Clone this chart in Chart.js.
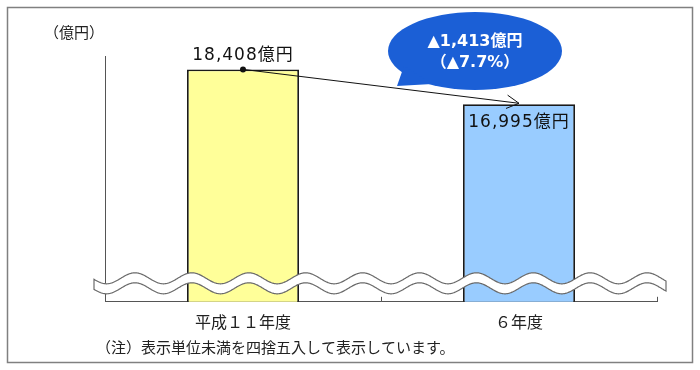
<!DOCTYPE html>
<html>
<head>
<meta charset="utf-8">
<script src="https://cdn.jsdelivr.net/npm/chart.js@4/dist/chart.umd.min.js"></script>
<style>
html,body{margin:0;padding:0;background:#fff;}
#wrap{width:700px;height:370px;}
</style>
</head>
<body>
<div id="wrap"><canvas id="c" width="700" height="370"></canvas></div>
<script>
const categories = ['平成１１年度', '６年度'];
const values = [18408, 16995];
const barColors = ['#FFFF99', '#99CCFF'];
const unitLabel = '（億円）';
const footnote = '（注）表示単位未満を四捨五入して表示しています。';
const yMin = 9000;
const yMax = 18950;

const JP = '"DejaVu Sans", "Noto Sans CJK JP", sans-serif';
const JPK = '"Noto Sans CJK JP", sans-serif';

function fmt(n){ return n.toLocaleString('en-US'); }

const deco = {
  id: 'deco',
  beforeDraw(chart){
    const ctx = chart.ctx;
    ctx.save();
    ctx.fillStyle = '#fff';
    ctx.fillRect(0,0,chart.width,chart.height);
    ctx.restore();
  },
  afterDatasetsDraw(chart){
    const ctx = chart.ctx;
    const ca = chart.chartArea;
    const meta = chart.getDatasetMeta(0);
    const b1 = meta.data[0], b2 = meta.data[1];
    const xs = chart.scales.x;

    // wave break
    const P = 56.9, A = 5.5, gap = 10;
    const xL = ca.left - 11, xR = ca.right + 9;
    const x0 = ca.left + 30;
    const yc = ca.bottom - 23.5;
    const up = x => yc - A*Math.cos(2*Math.PI*(x - x0)/P);
    ctx.save();
    ctx.beginPath();
    ctx.moveTo(xL, up(xL));
    for (let x = xL; x <= xR; x += 0.5) ctx.lineTo(x, up(x));
    ctx.lineTo(xR, up(xR));
    ctx.lineTo(xR, up(xR) + gap);
    for (let x = xR; x >= xL; x -= 0.5) ctx.lineTo(x, up(x) + gap);
    ctx.lineTo(xL, up(xL) + gap);
    ctx.closePath();
    ctx.fillStyle = '#fff';
    ctx.fill();
    ctx.strokeStyle = '#6a6a6a';
    ctx.lineWidth = 1.2;
    ctx.stroke();
    ctx.restore();

    // x-axis inner ticks at category boundaries
    ctx.save();
    ctx.strokeStyle = '#555';
    ctx.lineWidth = 1;
    const half = (xs.getPixelForValue(1) - xs.getPixelForValue(0)) / 2;
    [xs.getPixelForValue(0) + half, xs.getPixelForValue(1) + half].forEach(x => {
      const px = Math.round(x) + 0.5;
      ctx.beginPath();
      ctx.moveTo(px, ca.bottom);
      ctx.lineTo(px, ca.bottom - 5);
      ctx.stroke();
    });
    ctx.restore();

    // value labels
    ctx.save();
    ctx.fillStyle = '#111';
    ctx.font = '17px ' + JP;
    ctx.textAlign = 'center';
    ctx.textBaseline = 'middle';
    if ('letterSpacing' in ctx) ctx.letterSpacing = '1px';
    ctx.fillText(fmt(values[0]) + '億円', b1.x, b1.y - 14);
    ctx.fillText(fmt(values[1]) + '億円', b2.x, b2.y + 18);
    ctx.restore();

    // arrow
    ctx.save();
    ctx.strokeStyle = '#111';
    ctx.fillStyle = '#111';
    ctx.lineWidth = 1;
    const sx = b1.x, sy = b1.y, ex = b2.x, ey = b2.y - 1;
    ctx.beginPath();
    ctx.moveTo(sx, sy); ctx.lineTo(ex, ey); ctx.stroke();
    ctx.beginPath(); ctx.arc(sx, sy, 3, 0, Math.PI*2); ctx.fill();
    const ang = Math.atan2(ey - sy, ex - sx);
    const L = 14, w = 0.5;
    ctx.beginPath();
    ctx.moveTo(ex - L*Math.cos(ang - w), ey - L*Math.sin(ang - w));
    ctx.lineTo(ex, ey);
    ctx.lineTo(ex - L*Math.cos(ang + w), ey - L*Math.sin(ang + w));
    ctx.stroke();
    ctx.restore();

    // speech bubble
    const diff = values[0] - values[1];
    const pct = (diff / values[0] * 100).toFixed(1);
    const cx = 475, cy = 51;
    ctx.save();
    ctx.fillStyle = '#1b5fd6';
    ctx.beginPath();
    ctx.ellipse(cx, cy, 87, 39, 0, 0, Math.PI*2);
    ctx.fill();
    ctx.beginPath();
    ctx.moveTo(404, 66);
    ctx.lineTo(397, 86);
    ctx.lineTo(432, 84);
    ctx.closePath();
    ctx.fill();
    ctx.fillStyle = '#fff';
    ctx.font = 'bold 16px ' + JP;
    ctx.textAlign = 'center';
    ctx.textBaseline = 'middle';
    ctx.fillText('▲' + fmt(diff) + '億円', cx, 42);
    ctx.fillText('（▲' + pct + '%）', cx, 63);
    ctx.restore();
  },
  afterDraw(chart){
    const ctx = chart.ctx;
    ctx.save();
    ctx.fillStyle = '#222';
    ctx.font = '15px ' + JPK;
    ctx.textAlign = 'left';
    ctx.textBaseline = 'middle';
    ctx.fillText(unitLabel, 44, 32);
    ctx.fillText(footnote, 96, 347);
    ctx.strokeStyle = '#808080';
    ctx.lineWidth = 1.5;
    ctx.strokeRect(7.5, 7.5, 685, 355);
    ctx.restore();
  }
};

new Chart(document.getElementById('c'), {
  type: 'bar',
  data: {
    labels: categories,
    datasets: [{
      data: values,
      backgroundColor: barColors,
      borderColor: '#1a1a1a',
      borderWidth: 1.8,
      categoryPercentage: 1,
      barPercentage: 0.406
    }]
  },
  options: {
    responsive: false,
    animation: false,
    events: [],
    layout: { padding: { left: 97, right: 43, top: 56, bottom: 35 } },
    plugins: { legend: { display: false }, tooltip: { enabled: false }, title: { display: false } },
    scales: {
      x: {
        grid: { display: false },
        border: { display: true, color: '#555', width: 1 },
        ticks: { color: '#222', padding: 3, font: { family: JPK, size: 16 } }
      },
      y: {
        min: yMin, max: yMax,
        grid: { display: false },
        border: { display: true, color: '#555', width: 1 },
        ticks: { display: false }
      }
    }
  },
  plugins: [deco]
});
</script>
</body>
</html>
